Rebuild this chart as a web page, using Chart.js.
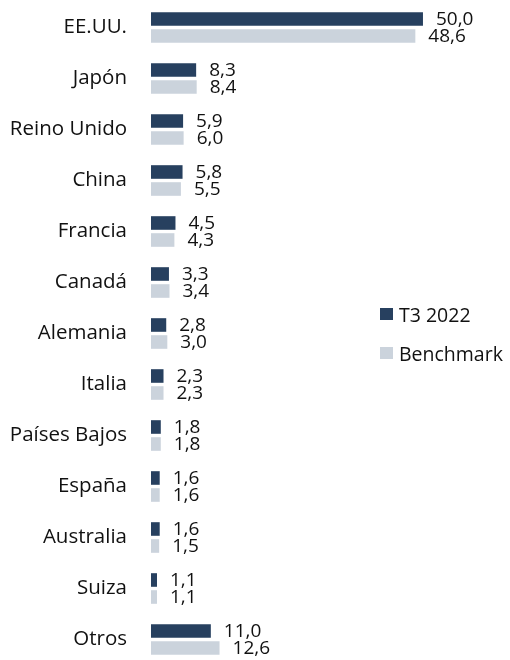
<!DOCTYPE html>
<html>
<head>
<meta charset="utf-8">
<script src="https://cdn.jsdelivr.net/npm/chart.js@4"></script>
<style>
    body { margin: 0; background: #fff; }
    .wrap { position: relative; width: 510px; height: 660px; overflow: hidden; }
    .legend { position: absolute; left: 380px; top: 302px; font-family: 'Open Sans', sans-serif; font-size: 19.5px; color: #111; }
    .legend-item { display: flex; align-items: center; height: 24px; margin-bottom: 15px; }
    .legend-box { width: 13px; height: 12px; margin-right: 6px; }
</style>
</head>
<body>
<div class="wrap">
    <canvas id="chart" width="510" height="665"></canvas>
    <div class="legend" id="legend"></div>
</div>
<script>
const categories = ['EE.UU.', 'Japón', 'Reino Unido', 'China', 'Francia', 'Canadá', 'Alemania', 'Italia', 'Países Bajos', 'España', 'Australia', 'Suiza', 'Otros'];
const t3Values = [50.0, 8.3, 5.9, 5.8, 4.5, 3.3, 2.8, 2.3, 1.8, 1.6, 1.6, 1.1, 11.0];
const benchmarkValues = [48.6, 8.4, 6.0, 5.5, 4.3, 3.4, 3.0, 2.3, 1.8, 1.6, 1.5, 1.1, 12.6];
const seriesNames = ['T3 2022', 'Benchmark'];
const colors = ['#27405f', '#cbd3dc'];

const fmt = v => v.toFixed(1).replace('.', ',');

// value labels at the end of each bar
const valueLabels = {
    id: 'valueLabels',
    afterDatasetsDraw(chart) {
        const ctx = chart.ctx;
        ctx.save();
        ctx.font = '19px "Open Sans"';
        ctx.fillStyle = '#111';
        ctx.textAlign = 'left';
        ctx.textBaseline = 'middle';
        chart.data.datasets.forEach((ds, i) => {
            chart.getDatasetMeta(i).data.forEach((bar, j) => {
                ctx.fillText(fmt(ds.data[j]), bar.x + 13, bar.y + 1);
            });
        });
        ctx.restore();
    }
};

const datasets = [t3Values, benchmarkValues].map((vals, i) => ({
    label: seriesNames[i],
    data: vals,
    backgroundColor: colors[i],
    borderWidth: 0,
    categoryPercentage: 0.667,
    barPercentage: 0.8
}));

const chart = new Chart(document.getElementById('chart').getContext('2d'), {
    type: 'bar',
    data: { labels: categories, datasets: datasets },
    options: {
        indexAxis: 'y',
        responsive: false,
        animation: false,
        layout: { padding: { top: 2, right: 0, bottom: 0, left: 0 } },
        plugins: { legend: { display: false }, tooltip: { enabled: false } },
        scales: {
            x: { display: false, min: 0, max: 66 },
            y: {
                grid: { display: false },
                border: { display: false },
                afterFit: scale => {
                    scale.width = 151;
                    scale.paddingTop = 0;
                    scale.paddingBottom = 0;
                },
                ticks: {
                    padding: 16,
                    color: '#111',
                    font: { family: 'Open Sans', size: 20.5 }
                }
            }
        }
    },
    plugins: [valueLabels]
});

const legend = document.getElementById('legend');
datasets.forEach(ds => {
    const item = document.createElement('div');
    item.className = 'legend-item';
    item.innerHTML = `<span class="legend-box" style="background:${ds.backgroundColor}"></span>${ds.label}`;
    legend.appendChild(item);
});
</script>
</body>
</html>
